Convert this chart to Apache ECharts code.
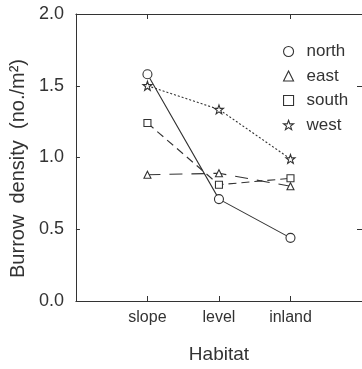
<!DOCTYPE html>
<html>
<head>
<meta charset="utf-8">
<script src="https://cdn.jsdelivr.net/npm/echarts@6/dist/echarts.min.js"></script>
<style>html,body{margin:0;padding:0;background:#fff}#c{width:362px;height:369px}</style>
</head>
<body>
<div id="c"></div>
<script>
var categories = ['slope', 'level', 'inland'];
var north = [1.58, 0.71, 0.44];
var east = [0.88, 0.89, 0.80];
var south = [1.24, 0.81, 0.855];
var west = [1.50, 1.335, 0.99];
var yTicks = [0, 0.5, 1.0, 1.5, 2.0];

var STAR = 'path://M12,0 L14.9,8.1 L23.4,8.1 L16.6,13.2 L19.1,21.4 L12,16.5 L4.9,21.4 L7.4,13.2 L0.6,8.1 L9.1,8.1 Z';
var INK = '#333';
var FONT = 'Liberation Sans';

function pts(arr) { return arr.map(function (v, i) { return [i + 1, v]; }); }

function mk(name, data, symbol, size, lineType) {
  return {
    name: name, type: 'line', data: pts(data), symbol: symbol, symbolSize: size,
    showAllSymbol: true,
    lineStyle: { color: INK, width: 1.1, type: lineType },
    itemStyle: { color: '#fff', borderColor: INK, borderWidth: 1.1 },
    emphasis: { disabled: true }, z: 3
  };
}

var chart = echarts.init(document.getElementById('c'), null, { renderer: 'canvas' });
chart.setOption({
  animation: false,
  backgroundColor: '#fff',
  textStyle: { fontFamily: FONT },
  grid: { left: 75, top: 14, width: 288, height: 293, containLabel: false },
  legend: {
    orient: 'vertical', left: 278, top: 38, itemGap: 7.5, itemWidth: 10, itemHeight: 10,
    textStyle: { fontFamily: FONT, fontSize: 17, color: INK, padding: [0, 0, 0, 8] },
    itemStyle: { color: '#fff', borderColor: INK, borderWidth: 1.1 },
    data: [
      { name: 'north', icon: 'circle' },
      { name: 'east', icon: 'triangle' },
      { name: 'south', icon: 'rect' },
      { name: 'west', icon: STAR }
    ]
  },
  xAxis: [{
    type: 'value', min: 0, max: 4, interval: 1, position: 'bottom',
    name: 'Habitat', nameLocation: 'middle', nameGap: 44,
    nameTextStyle: { fontFamily: FONT, fontSize: 19, color: INK },
    axisLine: { show: true, onZero: false, lineStyle: { color: INK, width: 1 } },
    axisTick: { show: true, inside: true, length: 5, customValues: [1, 2, 3], lineStyle: { color: INK } },
    axisLabel: { customValues: [1, 2, 3], margin: 9, fontSize: 16, color: INK, fontFamily: FONT,
      formatter: function (v) { return categories[v - 1] || ''; } },
    splitLine: { show: false }
  }, {
    type: 'value', min: 0, max: 4, interval: 1, position: 'top',
    axisLine: { show: true, onZero: false, lineStyle: { color: INK, width: 1 } },
    axisTick: { show: true, inside: true, length: 5, customValues: [1, 3], lineStyle: { color: INK } },
    axisLabel: { show: false }, splitLine: { show: false }
  }],
  yAxis: [{
    type: 'value', min: 0, max: 2, interval: 0.5, position: 'left',
    name: 'Burrow  density  (no./m\u00b2)', nameLocation: 'middle', nameGap: 47,
    nameTextStyle: { fontFamily: FONT, fontSize: 20, color: INK, padding: [0, 22, 0, 0] },
    axisLine: { show: true, onZero: false, lineStyle: { color: INK, width: 1 } },
    axisTick: { show: true, inside: true, length: 4, customValues: yTicks, lineStyle: { color: INK } },
    axisLabel: { margin: 12, fontSize: 18, color: INK, fontFamily: FONT,
      formatter: function (v) { return v.toFixed(1); } },
    splitLine: { show: false }
  }, {
    type: 'value', min: 0, max: 2, interval: 0.5, position: 'right',
    axisLine: { show: true, onZero: false, lineStyle: { color: INK, width: 1 } },
    axisTick: { show: true, inside: true, length: 5, customValues: [0.5, 1.5], lineStyle: { color: INK } },
    axisLabel: { show: false }, splitLine: { show: false }
  }],
  series: [
    mk('north', north, 'circle', 9, 'solid'),
    mk('east', east, 'triangle', 7, [13, 9]),
    mk('south', south, 'rect', 7, [8, 5]),
    mk('west', west, STAR, 9, [2, 2])
  ]
});
</script>
</body>
</html>
